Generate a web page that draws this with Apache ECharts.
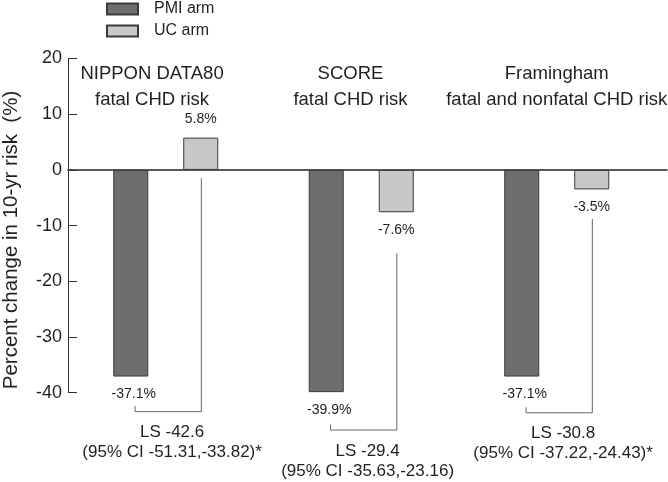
<!DOCTYPE html>
<html>
<head>
<meta charset="utf-8">
<script src="https://cdn.jsdelivr.net/npm/echarts@6/dist/echarts.min.js"></script>
<style>
html,body{margin:0;padding:0;background:#fff;}
#chart{width:668px;height:482px;}
</style>
</head>
<body>
<div id="chart"></div>
<script>
// data
const groupTitles = ['NIPPON DATA80\nfatal CHD risk', 'SCORE\nfatal CHD risk', 'Framingham\nfatal and nonfatal CHD risk']
const pmiArm = [-37.1, -39.9, -37.1]
const ucArm = [5.8, -7.6, -3.5]
const lsText = ['LS -42.6', 'LS -29.4', 'LS -30.8']
const ciText = ['(95% CI -51.31,-33.82)*', '(95% CI -35.63,-23.16)', '(95% CI -37.22,-24.43)*']
const connectorTop = [-1.5, -15, -8.8]
const connectorBase = [-43.4, -46.7, -43.6]
const yMin = -40, yMax = 20, yStep = 10

// layout helpers
const grp = i => i + 0.5
const pmiShift = -0.157, ucShift = 0.182
const titleShift = [-0.07, -0.055, 0]
const ink = '#231f20'

let chart = echarts.init(document.getElementById('chart'))

let brackets = groupTitles.map((t, i) => {
    let L = grp(i) + pmiShift, R = grp(i) + ucShift
    return {
        type: 'line',
        silent: true,
        clip: false,
        symbol: 'none',
        lineStyle: {color: '#666', width: 1},
        data: [[L, connectorBase[i] + 1], [L, connectorBase[i]], [R, connectorBase[i]], [R, connectorTop[i]]],
        z: 1
    }
})

chart.setOption({
    animation: false,
    textStyle: {fontFamily: 'Liberation Sans', color: ink},
    grid: {left: 68, right: 1, top: 58.5, bottom: 89.3},
    legend: {
        data: ['PMI arm', 'UC arm'],
        orient: 'vertical',
        left: 106,
        top: 1,
        padding: 0,
        itemWidth: 31,
        itemHeight: 11,
        itemGap: 6,
        icon: 'rect',
        textStyle: {fontSize: 16, lineHeight: 16, color: ink, padding: [0, 0, 0, 11]}
    },
    graphic: [{
        type: 'text',
        x: 11,
        y: 240,
        rotation: Math.PI / 2,
        style: {
            text: 'Percent change in 10-yr risk  (%)',
            font: '20.5px "Liberation Sans"',
            fill: ink,
            textAlign: 'center',
            textVerticalAlign: 'middle'
        }
    }],
    xAxis: {
        type: 'value',
        min: 0,
        max: 3.064,
        axisLine: {onZero: true, lineStyle: {color: '#222', width: 1.5}},
        axisTick: {show: false},
        axisLabel: {show: false},
        splitLine: {show: false}
    },
    yAxis: {
        type: 'value',
        min: yMin,
        max: yMax,
        interval: yStep,
        axisLine: {show: true, lineStyle: {color: '#333', width: 1}},
        axisTick: {show: true, inside: true, length: 9, lineStyle: {color: '#333'}},
        axisLabel: {fontSize: 18, margin: 6, color: ink},
        splitLine: {show: false}
    },
    series: [
        {
            name: 'PMI arm',
            type: 'bar',
            barWidth: 35,
            barGap: '100%',
            itemStyle: {color: '#6e6e6e', borderColor: '#3a3a3a', borderWidth: 1},
            label: {
                show: true,
                position: 'bottom',
                distance: 11,
                offset: [3, 0],
                fontSize: 14,
                color: ink,
                formatter: p => p.value[1].toFixed(1) + '%'
            },
            data: pmiArm.map((v, i) => [grp(i), v]),
            z: 3
        },
        {
            name: 'UC arm',
            type: 'bar',
            barWidth: 35,
            barGap: '100%',
            itemStyle: {color: '#c8c8c8', borderColor: '#3a3a3a', borderWidth: 1},
            label: {
                show: true,
                distance: 11,
                fontSize: 14,
                color: ink,
                formatter: p => p.value[1].toFixed(1) + '%'
            },
            data: ucArm.map((v, i) => ({value: [grp(i), v], label: {position: v >= 0 ? 'top' : 'bottom'}})),
            z: 3
        },
        ...brackets,
        {
            type: 'scatter',
            silent: true,
            clip: false,
            symbolSize: 0,
            itemStyle: {opacity: 1},
            label: {show: true, position: 'bottom', distance: 11, fontSize: 17, lineHeight: 20, color: ink, opacity: 1, align: 'center'},
            data: lsText.map((t, i) => ({
                value: [(2 * grp(i) + pmiShift + ucShift) / 2 + 0.02, connectorBase[i]],
                label: {formatter: t + '\n' + ciText[i]}
            }))
        },
        {
            type: 'scatter',
            silent: true,
            clip: false,
            symbolSize: 0,
            itemStyle: {opacity: 1},
            label: {
                show: true,
                position: 'inside',
                fontSize: 18.5,
                lineHeight: 26,
                color: ink,
                opacity: 1,
                align: 'center'
            },
            data: groupTitles.map((t, i) => ({value: [grp(i) + titleShift[i], 14.88], label: {formatter: t}}))
        }
    ]
})
</script>
</body>
</html>
